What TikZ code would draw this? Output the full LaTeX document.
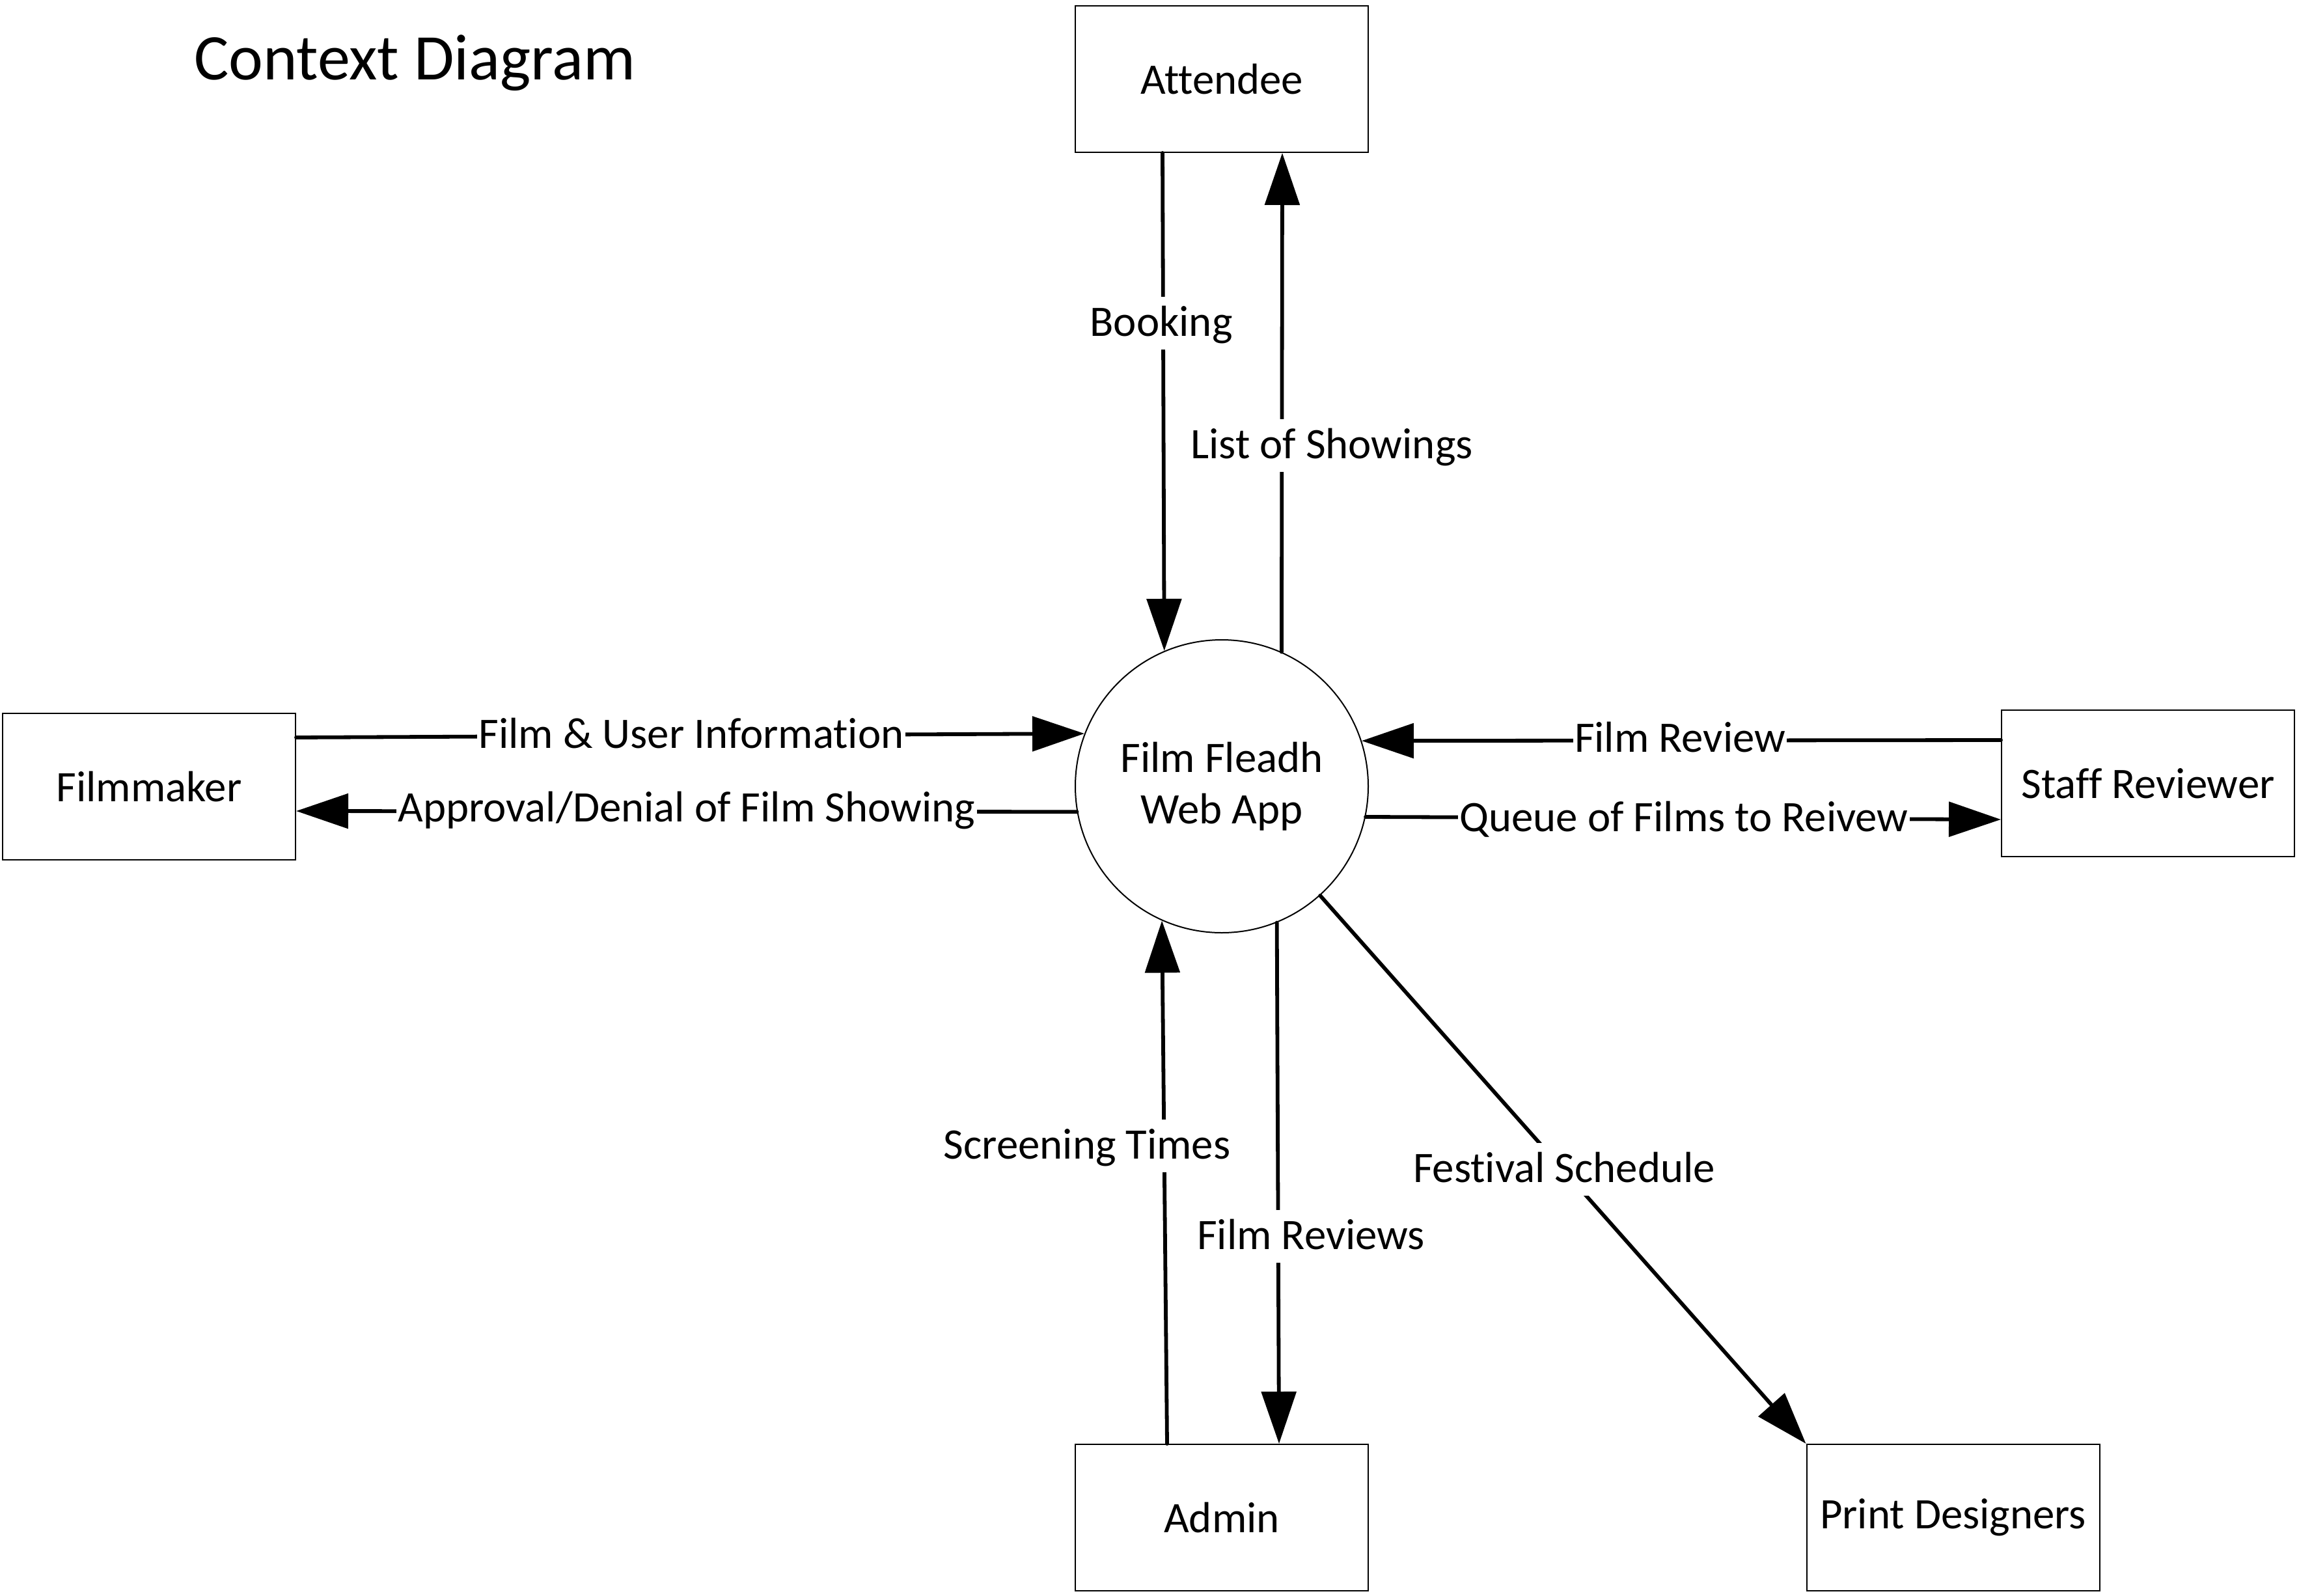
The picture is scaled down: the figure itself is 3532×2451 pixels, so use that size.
\documentclass[tikz,border=0pt]{standalone}
\usepackage{fontspec}
\setmainfont{Carlito}[Ligatures=NoCommon]
\usetikzlibrary{arrows.meta,calc}
\begin{document}
\begin{tikzpicture}[x=0.25pt,y=-0.25pt,
  txt/.style={font=\fontsize{16.7pt}{19.8pt}\selectfont},
  ext/.style={txt,draw,line width=0.5pt,minimum width=112.5pt,minimum height=56.25pt,inner sep=0pt},
  proc/.style={txt,draw,circle,line width=0.5pt,minimum size=112.5pt,inner sep=0pt,align=center},
  flow/.style={line width=1.45pt,line cap=round,-{Triangle[length=20pt,width=13.25pt]}},
  lbl/.style={txt,fill=white,inner sep=0pt,inner xsep=0.6pt,text height=15pt,text depth=5.25pt,anchor=base}]
\useasboundingbox (0,0) rectangle (3532,2451);
\node[anchor=base west,font=\fontsize{25pt}{30pt}\selectfont] (title) at (284,123) {Context Diagram};

\node[ext] (att) at (1877,121.5) {Attendee};
\node[ext] (fm) at (229,1208.5) {Filmmaker};
\node[ext] (sr) at (3300,1203.5) {Staff Reviewer};
\node[ext] (adm) at (1877,2331.5) {Admin};
\node[ext] (pd) at (3000.5,2331.5) {Print Designers};
\node[proc] (app) at (1877,1208) {Film Fleadh\\Web App};

\draw[flow] ($(att.south)+(-91,0)$) -- (app.113.8);
\draw[flow] (app.66.9) -- ($(att.south)+(93,0)$);
\draw[flow] ($(fm.east)+(0,-75.5)$) -- (app.159.1);
\draw[flow] (app.190.6) -- ($(fm.east)+(0,37.5)$);
\draw[flow] ($(sr.west)+(0,-66.5)$) -- (app.18.8);
\draw[flow] (app.348.1) -- ($(sr.west)+(0,55.5)$);
\draw[flow] ($(adm.north)+(-84,0)$) -- (app.246.5);
\draw[flow] (app.292.5) -- ($(adm.north)+(88,0)$);
\draw[flow] (app.312.3) -- (pd.north west);

\node[lbl] (l1) at (1784,516) {Booking};
\node[lbl] (l2) at (2046,704) {List of Showings};
\node[lbl] (l3) at (1062,1149) {Film \& User Information};
\node[lbl] (l4) at (1055,1262) {Approval/Denial of Film Showing};
\node[lbl] (l5) at (2581,1155) {Film Review};
\node[lbl] (l6) at (2587,1277) {Queue of Films to Reivew};
\node[lbl] (l7) at (1670,1780) {Screening Times};
\node[lbl] (l8) at (2014,1919) {Film Reviews};
\node[lbl] (l9) at (2403,1816) {Festival Schedule};
\end{tikzpicture}
\end{document}
